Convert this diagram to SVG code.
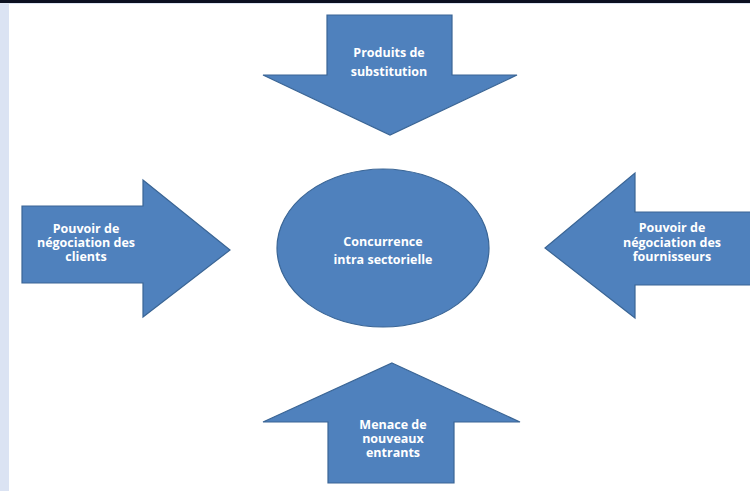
<svg xmlns="http://www.w3.org/2000/svg" width="750" height="491" viewBox="0 0 750 491">
<style>
.shape{fill:#4f81bd;stroke:#3a6595;stroke-width:1.2}
.lbl{font-family:"Open Sans","Liberation Sans",sans-serif;font-weight:bold;font-size:12.5px;fill:#ffffff;text-anchor:middle}
</style>
<rect x="0" y="0" width="750" height="491" fill="#ffffff"/>
<rect x="0" y="0" width="750" height="3" fill="#0b1020"/>
<rect x="0" y="3" width="750" height="1" fill="#dde5f3"/>
<rect x="0" y="4" width="9" height="487" fill="#dbe3f3"/>
<g id="connectors"></g>
<g id="substitution">
<polygon class="shape" points="327,15 452,15 452,75 517,75 390,135 263,75 327,75"/>
<text class="lbl" x="389" y="57">Produits de</text>
<text class="lbl" x="389" y="76">substitution</text>
</g>
<g id="clients">
<polygon class="shape" points="22,206 143,206 143,180 230,250 143,317 143,283 22,283"/>
<text class="lbl" x="86" y="233">Pouvoir de</text>
<text class="lbl" x="86" y="247">négociation des</text>
<text class="lbl" x="86" y="261">clients</text>
</g>
<g id="fournisseurs">
<polygon class="shape" points="751,212 635,212 635,173 545,248 635,318 635,285 751,285"/>
<text class="lbl" x="672" y="232">Pouvoir de</text>
<text class="lbl" x="672" y="247">négociation des</text>
<text class="lbl" x="672" y="261">fournisseurs</text>
</g>
<g id="entrants">
<polygon class="shape" points="392,363 520,422 454,422 454,483 328,483 328,422 263,422"/>
<text class="lbl" x="393" y="429">Menace de</text>
<text class="lbl" x="393" y="443">nouveaux</text>
<text class="lbl" x="393" y="457">entrants</text>
</g>
<g id="concurrence">
<ellipse class="shape" cx="383" cy="248" rx="106" ry="79"/>
<text class="lbl" x="383" y="246">Concurrence</text>
<text class="lbl" x="383" y="264">intra sectorielle</text>
</g>
</svg>
